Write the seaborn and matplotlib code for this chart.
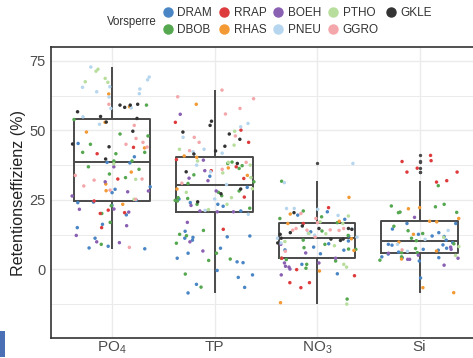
import numpy as np
import pandas as pd
import matplotlib
matplotlib.use("Agg")
import matplotlib.pyplot as plt
from matplotlib.lines import Line2D
from matplotlib.patches import Rectangle
import seaborn as sns

groups = ["PO4", "TP", "NO3", "Si"]
group_labels = [r"PO$_\mathregular{4}$", "TP", r"NO$_\mathregular{3}$", "Si"]
vorsperren = ["DRAM", "DBOB", "RRAP", "RHAS", "BOEH", "PNEU", "PTHO", "GGRO", "GKLE"]
colors = ["#4a86c5", "#55a84f", "#de3b3d", "#f39a34", "#8a60b3",
          "#b5d6ee", "#b7de9c", "#f4a7aa", "#333333"]

po4 = {
    "DRAM": [45.3, 40.5, 38.5, 38.3, 29.7, 28.8, 27.6, 24.0, 24.2, 23.0, 19.6, 24.9, 16.2, 15.0, 11.2, 7.4, 7.7, 8.3],
    "DBOB": [59.1, 53.9, 48.7, 48.0, 45.0, 41.6, 42.1, 42.1, 39.0, 39.0, 33.0, 34.3, 36.9, 22.9, 20.1, 16.9, 9.0, 36.0],
    "RRAP": [43.9, 41.6, 32.5, 24.6, 21.3, 20.1, 20.4, 15.0],
    "RHAS": [63.1, 58.5, 52.9, 43.7, 49.4, 35.0, 30.7, 28.3, 23.4],
    "BOEH": [36.9, 31.5, 26.4, 21.6, 20.6, 21.7, 27.9, 28.2, 15.7, 12.2, 9.9, 9.6],
    "PNEU": [72.8, 69.2, 68.2, 64.9, 65.7, 63.2, 65.5, 63.9, 62.0, 58.1, 57.9, 54.9, 52.2],
    "PTHO": [72.0, 71.3, 67.5, 68.7, 67.3, 25.2, 32.4, 38.0],
    "GGRO": [59.4, 51.8, 45.7, 45.0, 47.1, 44.0, 33.8, 32.5, 32.1, 28.5, 25.2, 7.9, 30.0],
    "GKLE": [58.3, 56.7, 55.0, 54.3, 53.0, 59.1, 59.1, 59.4, 49.7, 45.1, 39.7, 44.1],
}
tp = {
    "DRAM": [25.3, 23.4, 22.7, 21.0, 12.0, 11.2, 11.5, 11.7, 13.7, 10.5, 7.6, 5.8, 2.7, 2.4, 4.0, -0.4, -2.9, -2.0, -5.4, -8.5, -6.5, 29.5, 24.0, 33.5],
    "DBOB": [38.6, 37.3, 30.9, 38.1, 36.3, 27.7, 25.5, 24.6, 23.4, 28.2, 25.8, 24.8, 14.0, 12.6, 12.1, 9.4, 5.8, 3.7, 3.2, -1.7, -6.4, 26.5, 22.0, 31.5, 34.0],
    "RRAP": [52.9, 50.1, 45.7, 35.5, 36.9, 32.7, 14.4, 26.0, 39.5],
    "RHAS": [59.4, 40.3, 40.8, 33.8, 28.9, 36.5],
    "BOEH": [55.8, 39.3, 31.9, 32.8, 28.2, 20.7, 21.0, 20.7, 16.9, 9.9, 6.6, 35.5, 23.0],
    "PNEU": [52.5, 51.3, 47.5, 43.2, 42.3, 35.1, 37.5, 25.3, 19.8, 21.2, 30.5, 41.8],
    "PTHO": [49.7, 43.2, 44.7, 37.5, 34.7, 39.0, 38.5, 25.8, 23.4, 27.7, 29.0, 33.0, 21.5],
    "GGRO": [64.5, 62.1, 61.4, 57.9, 55.9, 48.0, 42.7, 45.7, 47.5, 36.0, 31.0, 38.5],
    "GKLE": [53.3, 51.8, 49.4, 48.7, 46.8, 44.3, 41.5, 38.1, 35.1, 28.9, 27.2, 24.3, 42.6],
}
no3 = {
    "DRAM": [20.7, 19.5, 18.0, 13.5, 10.2, 6.9, 7.0, 9.2, 1.8, -1.6, 5.6, 8.0, 12.0],
    "DBOB": [31.7, 18.9, 21.0, 18.3, 16.8, 13.8, 7.3, 9.0, 7.8, 7.2, 3.5, 4.0, 3.0, 1.8, 0.4, -10.7, 10.5, 12.2],
    "RRAP": [22.2, 16.5, 4.0, -0.1, -2.3, -4.8, -4.8, -6.6],
    "RHAS": [25.9, 19.9, 17.3, 16.5, 6.8, -0.6, -12.0, 11.0],
    "BOEH": [5.9, 4.0, 2.3, 2.3, 1.1, 0.8, 0.1, -2.0, 9.0],
    "PNEU": [38.1, 31.2, 21.6, 21.9, 21.9, 19.4, 14.5, 12.3, 11.2, 11.6, 9.5, 13.0],
    "PTHO": [17.1, 19.2, 16.5, 12.8, 12.9, 1.8, 0.8, -12.5, 8.5, 10.0],
    "GGRO": [20.1, 18.3, 16.8, 14.7, 14.7, 14.2, 14.1, 14.0, 14.1, 11.6, 6.5],
    "GKLE": [20.4, 14.4, 15.6, 14.7, 14.7, 12.6, 10.4, 11.2, 10.9, 9.5, 10.9, 13.2],
}
si = {
    "DRAM": [16.5, 16.5, 12.6, 12.0, 13.2, 9.0, 7.6, 9.6, 8.7, 7.2, 4.2, 4.2, 4.5, -3.1, 8.8, 6.9, 5.5, 10.5, 6.2, 11.8, 3.0, 14.5],
    "DBOB": [30.1, 23.4, 22.5, 20.5, 20.6, 20.4, 22.8, 12.9, 11.2, 13.9, 10.3, 4.5, 3.3, 6.0, 6.0, 7.5, 9.2, 15.5],
    "RRAP": [41.0, 39.1, 38.8, 36.4, 35.0, 35.0, 31.4, 31.9],
    "RHAS": [21.8, 18.3, 17.3, 22.2, 17.1, 12.6, 6.6, 3.7, -8.4, -6.6, 9.8],
    "BOEH": [18.7, 7.2, 1.5, 5.1, 3.6, 3.6, 4.0, 5.8, 8.0],
    "PNEU": [14.0, 9.0, 6.5, 10.8],
    "PTHO": [11.5, 5.0, 8.2],
    "GGRO": [7.0],
    "GKLE": [],
}

rows = []
for g, d in zip(groups, [po4, tp, no3, si]):
    for v in vorsperren:
        for val in d[v]:
            rows.append((g, v, val))
df = pd.DataFrame(rows, columns=["Parameter", "Vorsperre", "Retention"])

sns.set_theme(style="white")
plt.rcParams["font.family"] = ["Liberation Sans", "DejaVu Sans"]
plt.rcParams["mathtext.fontset"] = "custom"
plt.rcParams["mathtext.rm"] = "Liberation Sans"
plt.rcParams["mathtext.it"] = "Liberation Sans:italic"

W, H = 473, 358
fig = plt.figure(figsize=(W / 100, H / 100), dpi=100)
ax_left, ax_right, ax_top, ax_bot = 51, 475, 47.3, 337.7
ax = fig.add_axes([ax_left / W, (H - ax_bot) / H, (ax_right - ax_left) / W, (ax_bot - ax_top) / H])

edge = "#4a4a4a"
sns.boxplot(data=df, x="Parameter", y="Retention", order=groups, ax=ax,
            fill=False, color=edge, width=0.75, linewidth=1.4, showcaps=False,
            whis=1.5, fliersize=1.4,
            flierprops=dict(marker="o", markerfacecolor=edge, markeredgecolor=edge, markersize=1.4),
            zorder=2)
np.random.seed(7)
sns.stripplot(data=df, x="Parameter", y="Retention", order=groups, hue="Vorsperre",
              hue_order=vorsperren, palette=dict(zip(vorsperren, colors)),
              jitter=0.39, size=2.5, linewidth=0, ax=ax, legend=False, zorder=3)

ax.set_xlim(-0.595, (ax_right - 111.7) / 102.6)
ax.set_ylim(-24.6, 79.9)
ax.set_yticks([0, 25, 50, 75])
ax.set_yticks([-12.5, 12.5, 37.5, 62.5], minor=True)
ax.set_xticks(range(4))
ax.set_xticklabels(group_labels)
ax.grid(True, which="major", color="#ebebeb", linewidth=1.0)
ax.grid(True, which="minor", axis="y", color="#ebebeb", linewidth=0.7)
ax.set_axisbelow(True)
ax.tick_params(axis="both", which="both", length=0, labelcolor="#4d4d4d")
ax.tick_params(axis="y", pad=4, labelsize=10.5)
ax.tick_params(axis="x", pad=1.5, labelsize=11)
ax.set_xlabel("")
ax.set_ylabel("Retentionseffizienz (%)", fontsize=11.6, color="#222222", labelpad=2)
for s in ax.spines.values():
    s.set_color("#333333")
    s.set_linewidth(1.2)

handles = [Line2D([0], [0], marker="o", linestyle="", markersize=6.5,
                  markerfacecolor=c, markeredgecolor=c) for c in colors]
fig.legend(handles, vorsperren, ncol=5, loc="center left",
           bbox_to_anchor=(163.3 / W, 1 - 21.5 / H), frameon=False,
           borderpad=0, borderaxespad=0, fontsize=8.5, handlelength=0.8,
           handletextpad=0.4, columnspacing=0.62, labelspacing=0.44,
           labelcolor="#333333")
fig.text(157 / W, 1 - 22 / H, "Vorsperre", ha="right", va="center", fontsize=8.3, color="#333333")

fig.add_artist(Rectangle((0, (H - 357) / H), 5 / W, 26 / H, transform=fig.transFigure,
                         facecolor="#4a6fb5", edgecolor="none"))

fig.savefig("out.png", dpi=100)
